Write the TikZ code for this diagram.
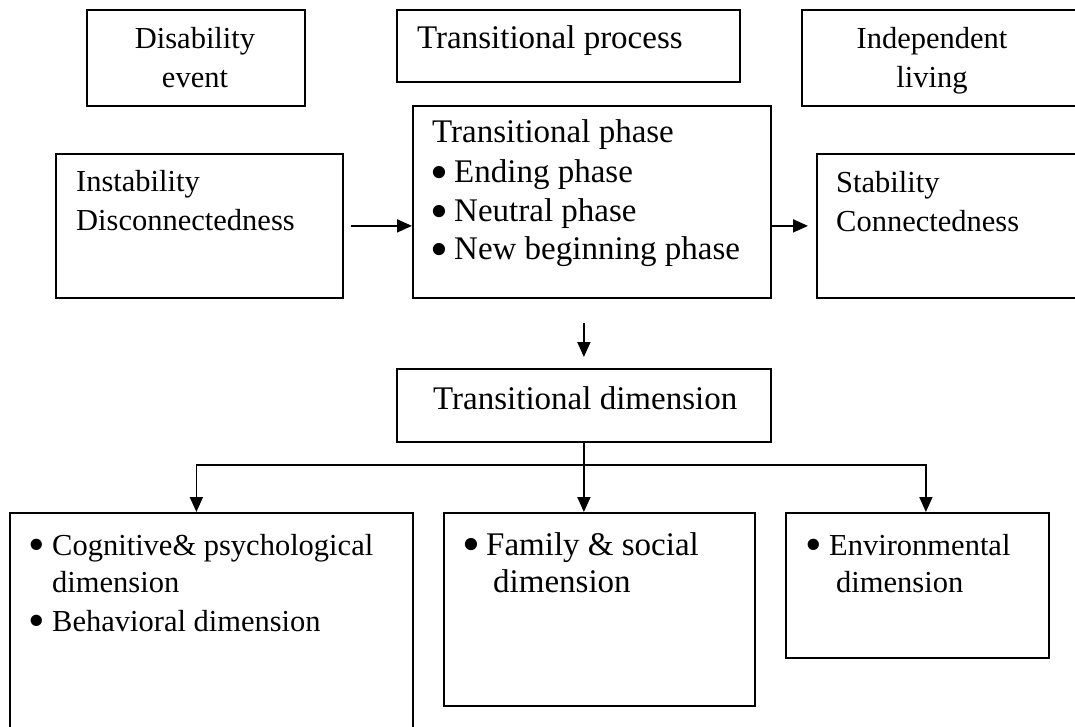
\documentclass[tikz,border=0pt]{standalone}
\usepackage{fontspec}
\setmainfont{Liberation Serif}
\usetikzlibrary{arrows.meta,positioning}

% one unit = 1pt, y growing downwards
\tikzset{
  x=1pt, y=-1pt,
  box/.style={draw, line width=1.8pt, inner sep=0pt, anchor=north west},
  txt/.style={inner sep=0pt, anchor=base west, font=\fontsize{30.5}{38.5}\selectfont},
  bigtxt/.style={inner sep=0pt, anchor=base west, font=\fontsize{33}{39}\selectfont},
  ctxt/.style={inner sep=0pt, anchor=base, font=\fontsize{30.5}{38.5}\selectfont},
  arr/.style={line width=1.8pt, -{Triangle[length=15pt,width=13pt]}},
}
% sized box: top-left corner, width, height
\newcommand{\sizedbox}[5]{%
  \node[box, minimum width=#4pt, minimum height=#5pt] (#1) at (#2,#3) {};}
% list bullet in a fixed-width slot
\newcommand{\blt}{\makebox[22pt][l]{\hspace{-1.5pt}\smash{\raisebox{-0.19em}{\scalebox{1.55}{•}}}}}

\begin{document}
\begin{tikzpicture}
\useasboundingbox (0,0) rectangle (1075,727);
\fill[white] (0,0) rectangle (1075,727);
\clip (0,0) rectangle (1075,727);

% header boxes
\sizedbox{dis}{86}{9}{218}{96}
\sizedbox{proc}{396}{9}{343}{72}
\sizedbox{indep}{801}{9}{300}{96}

% stage boxes
\sizedbox{inst}{55}{153}{287}{144}
\sizedbox{phase}{412}{105}{358}{192}
\sizedbox{stab}{816}{153}{300}{144}

% dimension boxes
\sizedbox{tdim}{396}{368}{374}{73}
\sizedbox{cog}{9}{512}{403}{260}
\sizedbox{fam}{443}{512}{311}{193}
\sizedbox{env}{785}{512}{263}{145}

% texts
\node[ctxt] (disT) at (195,49) {\begin{tabular}[t]{@{}c@{}}Disability\\event\end{tabular}};
\node[bigtxt] (procT) at (417,49) {Transitional process};
\node[ctxt] (indepT) at (932,49) {\begin{tabular}[t]{@{}c@{}}Independent\\living\end{tabular}};

\node[txt] (instT) at (76,192) {\begin{tabular}[t]{@{}l@{}}Instability\\Disconnectedness\end{tabular}};
\node[bigtxt] (phaseT) at (432,143) {\begin{tabular}[t]{@{}l@{}l@{}}
  \multicolumn{2}{@{}l@{}}{Transitional phase}\\[1pt]
  \blt & Ending phase\\
  \blt & Neutral phase\\[-1pt]
  \blt & New beginning phase\end{tabular}};
\node[txt] (stabT) at (836,193) {\begin{tabular}[t]{@{}l@{}}Stability\\Connectedness\end{tabular}};

\node[bigtxt] (tdimT) at (433,409) {Transitional dimension};
\node[txt] (cogT) at (30,555) {\begin{tabular}[t]{@{}l@{}l@{}}
  \blt & Cognitive\& psychological\\[-1pt]
       & dimension\\
  \blt & Behavioral dimension\end{tabular}};
\node[bigtxt] (famT) at (464,555) {\begin{tabular}[t]{@{}l@{}l@{}}
  \blt & Family \& social\\[-2pt]
       & \hspace{7pt}dimension\end{tabular}};
\node[txt] (envT) at (807,555) {\begin{tabular}[t]{@{}l@{}l@{}}
  \blt & Environmental\\[-1pt]
       & \hspace{7pt}dimension\end{tabular}};

% connectors
\coordinate (split) at (tdim.south |- 0,465);
\draw[arr] ([xshift=7pt]inst.east) -- (inst.east -| phase.west);
\draw[arr] (phase.east |- stab.west) -- ([xshift=-8pt]stab.west);
\draw[arr] ([yshift=-24pt]phase.south -| tdim.north) -- ([yshift=11pt]tdim.north);
\draw[arr] (tdim.south) -- (tdim.south |- fam.north);
\draw[arr] (split) -| ([xshift=-15pt]cog.north);
\draw[arr] (split) -| ([xshift=8.5pt]env.north);
\end{tikzpicture}
\end{document}
